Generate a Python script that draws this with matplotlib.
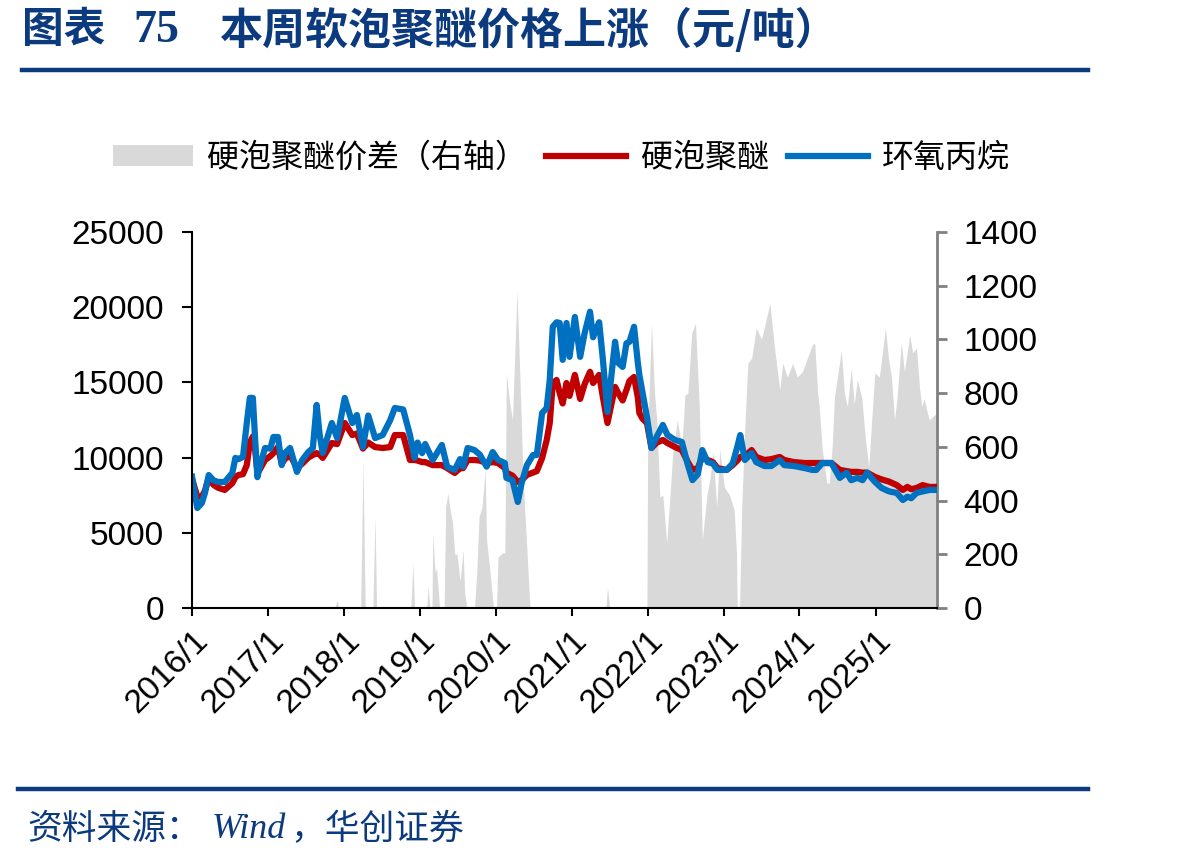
import matplotlib
matplotlib.use("Agg")
import matplotlib.pyplot as plt
import matplotlib.transforms as mtransforms
import pandas as pd

plt.rcParams['font.family'] = ['Liberation Sans', 'Noto Sans CJK SC', 'DejaVu Sans']

# --- data; time as decimal year ---
line_t = [2016.00, 2016.07, 2016.13, 2016.17, 2016.22, 2016.28, 2016.34, 2016.43, 2016.53, 2016.57,
          2016.61, 2016.67, 2016.72, 2016.76, 2016.80, 2016.83, 2016.86, 2016.89, 2016.96, 2017.03,
          2017.07, 2017.13, 2017.18, 2017.22, 2017.29, 2017.38, 2017.45, 2017.53, 2017.59, 2017.64,
          2017.68, 2017.72, 2017.84, 2017.91, 2018.01, 2018.11, 2018.17, 2018.25, 2018.32, 2018.41,
          2018.51, 2018.61, 2018.67, 2018.78, 2018.87, 2018.93, 2018.97, 2019.03, 2019.07, 2019.17,
          2019.29, 2019.36, 2019.46, 2019.53, 2019.57, 2019.63, 2019.72, 2019.79, 2019.88, 2019.96,
          2020.03, 2020.12, 2020.14, 2020.22, 2020.29, 2020.34, 2020.41, 2020.49, 2020.54, 2020.61,
          2020.67, 2020.71, 2020.75, 2020.80, 2020.84, 2020.88, 2020.93, 2020.97, 2021.04, 2021.11,
          2021.17, 2021.24, 2021.28, 2021.36, 2021.41, 2021.47, 2021.57, 2021.61, 2021.67, 2021.72,
          2021.76, 2021.82, 2021.87, 2021.89, 2021.93, 2021.99, 2022.05, 2022.12, 2022.20, 2022.26,
          2022.36, 2022.45, 2022.53, 2022.59, 2022.66, 2022.72, 2022.79, 2022.86, 2022.92, 2023.04,
          2023.12, 2023.18, 2023.22, 2023.28, 2023.37, 2023.43, 2023.54, 2023.63, 2023.74, 2023.80,
          2023.93, 2024.07, 2024.17, 2024.22, 2024.30, 2024.42, 2024.53, 2024.62, 2024.68, 2024.76,
          2024.83, 2024.89, 2024.99, 2025.08, 2025.18, 2025.28, 2025.36, 2025.42, 2025.47, 2025.54,
          2025.62, 2025.71, 2025.82]

po = [8730, 6650, 6980, 7650, 8840, 8500, 8380, 8380, 8980, 9980,
      9900, 10040, 12300, 13970, 13970, 11170, 8700, 9380, 10640, 10600,
      11370, 11370, 9500, 10300, 10640, 9050, 9840, 10370, 10640, 13500,
      11500, 10300, 12300, 11300, 13970, 12300, 12830, 10700, 12800, 11300,
      11500, 12500, 13300, 13200, 11500, 9980, 11000, 10300, 10900, 9840,
      10840, 9380, 9180, 9900, 9400, 10640, 10500, 10200, 9400, 10370,
      9840, 9640, 8650, 8500, 7050, 8300, 9500, 10170, 10170, 12970,
      13300, 15160, 18700, 19000, 18950, 16500, 18950, 16700, 19350, 16700,
      18300, 19700, 18000, 19000, 16500, 13040, 17700, 16300, 16030, 17600,
      17700, 18700, 16300, 15500, 14370, 12700, 10640, 11400, 12170, 11500,
      11170, 11040, 9500, 8500, 8900, 10500, 9700, 9600, 9180, 9180,
      9600, 10700, 11500, 9840, 10300, 9700, 9440, 9440, 9840, 9500,
      9440, 9300, 9180, 9180, 9640, 9640, 8650, 9000, 8500, 8650,
      8500, 9000, 8400, 7980, 7750, 7650, 7180, 7400, 7300, 7650,
      7750, 7850, 7850]

polyether = [8600, 7400, 7400, 7800, 8650, 8200, 8000, 7850, 8300, 8700,
             8840, 8900, 9500, 11000, 11400, 10500, 9000, 9200, 9840, 10100,
             10300, 10700, 9600, 9900, 10170, 9300, 9600, 10000, 10170, 10300,
             10200, 9980, 10970, 10900, 12300, 11500, 11600, 10600, 11000, 10700,
             10640, 10700, 11500, 11500, 9840, 9840, 9800, 9700, 9700, 9500,
             9500, 9300, 8980, 9300, 9300, 9840, 9840, 9800, 9640, 9700,
             9640, 9300, 9000, 8800, 8380, 8500, 8850, 9000, 9100, 9970,
             11170, 12300, 14960, 15160, 14300, 13600, 14960, 14100, 15500, 13900,
             14900, 15700, 14960, 15500, 14000, 12300, 14700, 14300, 13800, 14500,
             15100, 15360, 14000, 12970, 12600, 12300, 10640, 11000, 11170, 10970,
             10700, 10500, 9700, 9180, 9300, 10040, 9840, 9700, 9300, 9180,
             9500, 9800, 10040, 10100, 10500, 10040, 9840, 9900, 10040, 9840,
             9700, 9640, 9640, 9640, 9640, 9640, 9180, 9100, 9050, 9050,
             9000, 9000, 8720, 8550, 8400, 8170, 7850, 8050, 7900, 7980,
             8170, 8050, 8050]

spread_t = [2016.00, 2017.88, 2017.91, 2017.93, 2018.22, 2018.25, 2018.28, 2018.38, 2018.41, 2018.43,
            2018.88, 2018.91, 2018.93, 2019.09, 2019.11, 2019.13, 2019.16, 2019.17, 2019.20, 2019.22,
            2019.26, 2019.32, 2019.34, 2019.37, 2019.39, 2019.43, 2019.46, 2019.49, 2019.53, 2019.57,
            2019.59, 2019.62, 2019.72, 2019.75, 2019.78, 2019.82, 2019.86, 2019.88, 2019.92, 2019.97,
            2020.01, 2020.03, 2020.09, 2020.12, 2020.14, 2020.18, 2020.22, 2020.28, 2020.32, 2020.36,
            2020.41, 2020.45, 2021.45, 2021.47, 2021.50, 2021.99, 2022.00, 2022.05, 2022.09, 2022.12,
            2022.16, 2022.20, 2022.25, 2022.29, 2022.33, 2022.39, 2022.45, 2022.49, 2022.53, 2022.58,
            2022.63, 2022.68, 2022.72, 2022.78, 2022.82, 2022.86, 2022.91, 2022.95, 2023.01, 2023.08,
            2023.14, 2023.17, 2023.18, 2023.21, 2023.24, 2023.28, 2023.32, 2023.37, 2023.43, 2023.50,
            2023.55, 2023.61, 2023.67, 2023.74, 2023.78, 2023.84, 2023.91, 2023.97, 2024.04, 2024.11,
            2024.17, 2024.20, 2024.24, 2024.26, 2024.30, 2024.36, 2024.39, 2024.43, 2024.46, 2024.51,
            2024.55, 2024.59, 2024.63, 2024.68, 2024.72, 2024.76, 2024.82, 2024.86, 2024.91, 2024.95,
            2024.99, 2025.05, 2025.09, 2025.13, 2025.17, 2025.21, 2025.25, 2025.28, 2025.34, 2025.38,
            2025.45, 2025.49, 2025.54, 2025.58, 2025.61, 2025.64, 2025.68, 2025.71, 2025.78, 2025.80]

spread = [0, 0, 30, 0, 0, 550, 0, 0, 340, 0,
          0, 167, 0, 0, 80, 0, 0, 280, 130, 150,
          0, 0, 376, 428, 380, 320, 200, 200, 100, 216,
          60, 0, 0, 130, 340, 376, 514, 250, 150, 0,
          0, 190, 205, 205, 875, 770, 700, 1184, 838, 480,
          216, 0, 0, 78, 0, 0, 650, 1060, 800, 700,
          413, 420, 242, 400, 577, 700, 600, 793, 800, 1024,
          1060, 750, 253, 420, 480, 580, 376, 590, 450, 420,
          365, 205, 0, 0, 380, 675, 912, 930, 1042, 1000,
          1060, 1135, 972, 812, 912, 860, 910, 860, 880, 935,
          980, 987, 800, 750, 588, 465, 465, 600, 786, 880,
          960, 800, 750, 893, 760, 850, 780, 650, 525, 700,
          875, 860, 950, 1042, 930, 860, 700, 774, 987, 880,
          1016, 950, 968, 820, 750, 780, 730, 700, 720, 720]

years = list(range(2016, 2026))
labels = ['硬泡聚醚价差（右轴）', '硬泡聚醚', '环氧丙烷']


def to_date(t):
    y = int(t)
    start = pd.Timestamp(f"{y}-01-01")
    days = (pd.Timestamp(f"{y + 1}-01-01") - start).days
    return start + pd.Timedelta(days=(t - y) * days)


line_d = [to_date(t) for t in line_t]
spread_d = [to_date(t) for t in spread_t]

navy = '#0B3A7E'
cjk = ['Noto Sans CJK SC', 'DejaVu Sans']
fig = plt.figure(figsize=(11.78, 8.65), dpi=100)
ax = fig.add_axes([192 / 1178, 1 - 608 / 865, (937 - 192) / 1178, (608 - 232) / 865])
ax2 = ax.twinx()

g = ax2.fill_between(spread_d, 0, spread, color='#D9D9D9', lw=0, label=labels[0])
ax2.set_ylim(0, 1400)
ax2.set_yticks(range(0, 1401, 200))

l1, = ax.plot(line_d, polyether, color='#C00000', lw=4.5, label=labels[1], solid_joinstyle='round')
l2, = ax.plot(line_d, po, color='#0070C0', lw=4.5, label=labels[2], solid_joinstyle='round')
ax.set_ylim(0, 25000)
ax.set_yticks(range(0, 25001, 5000))
ax.set_xlim(to_date(2016.0), to_date(2025.81))

ax.set_zorder(ax2.get_zorder() + 1)
ax.patch.set_visible(False)

ax.set_xticks([pd.Timestamp(f"{y}-01-01") for y in years])
ax.set_xticklabels([f"{y}/1" for y in years], rotation=45, ha='right', rotation_mode='anchor')
shift = mtransforms.ScaledTranslation(5 / 72, -7 / 72, fig.dpi_scale_trans)
for lab in ax.get_xticklabels():
    lab.set_transform(lab.get_transform() + shift)

for a in (ax, ax2):
    a.spines['top'].set_visible(False)
ax.spines['right'].set_visible(False)
ax2.spines['left'].set_visible(False)
ax2.spines['bottom'].set_visible(False)
ax2.spines['right'].set_color('#808080')
ax2.spines['right'].set_linewidth(2)
ax.spines['left'].set_linewidth(1.5)
ax.spines['bottom'].set_linewidth(1.5)

ax.tick_params(axis='both', labelsize=24, length=7, width=1.5, direction='out', colors='black')
ax.tick_params(axis='y', pad=13)
ax.tick_params(axis='x', length=6, pad=6)
ax2.tick_params(axis='y', labelsize=24, length=7, width=2, color='#808080', labelcolor='black', pad=12)

fig.legend(handles=[g, l1, l2], labels=labels, loc='center', bbox_to_anchor=(0.4767, 1 - 158 / 865),
           ncol=3, frameon=False, fontsize=23, handlelength=2.5, handleheight=0.65,
           columnspacing=0.6, handletextpad=0.45, prop={'family': cjk, 'size': 23})

# title and source
fig.text(22 / 1178, 1 - 30 / 865, '图表', color=navy, fontsize=30, fontweight='bold',
         va='center', ha='left', family=cjk)
fig.text(133 / 1178, 1 - 31 / 865, '75', color=navy, fontsize=33, fontweight='bold',
         va='center', ha='left', family=['Liberation Serif'])
fig.text(220 / 1178, 1 - 30 / 865, '本周软泡聚醚价格上涨（元/吨）', color=navy, fontsize=31,
         fontweight='bold', va='center', ha='left', family=cjk)
fig.add_artist(plt.Line2D([22 / 1178, 1088 / 1178], [1 - 70 / 865] * 2, color=navy, lw=3.2))
fig.add_artist(plt.Line2D([18 / 1178, 1088 / 1178], [1 - 789 / 865] * 2, color=navy, lw=3.2))
fig.text(27 / 1178, 1 - 830 / 865, '资料来源：', color=navy, fontsize=25,
         va='center', ha='left', family=cjk)
fig.text(212 / 1178, 1 - 830 / 865, 'Wind', color=navy, fontsize=26, style='italic',
         va='center', ha='left', family=['Liberation Serif'])
fig.text(290 / 1178, 1 - 830 / 865, '，华创证券', color=navy, fontsize=25,
         va='center', ha='left', family=cjk)

fig.savefig('out.png', dpi=100)
